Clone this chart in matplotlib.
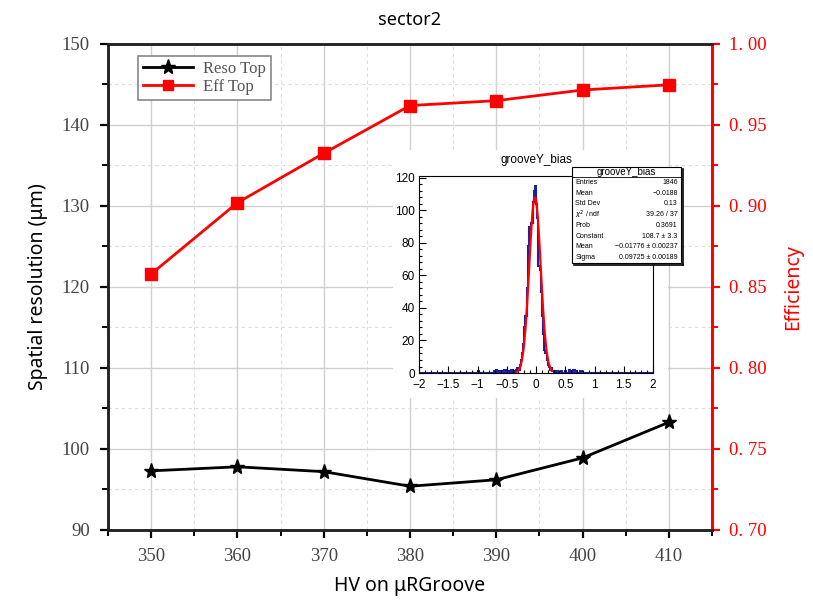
import numpy as np
import matplotlib
matplotlib.use("Agg")
import matplotlib.pyplot as plt
from matplotlib.ticker import MultipleLocator, FixedLocator, FuncFormatter
from matplotlib.lines import Line2D

# main chart data
hv = [350, 360, 370, 380, 390, 400, 410]
reso_top = [97.3, 97.8, 97.2, 95.4, 96.2, 98.9, 103.3]
eff_top = [0.858, 0.902, 0.9325, 0.962, 0.965, 0.9716, 0.9748]
eff_ticks = [0.70, 0.75, 0.80, 0.85, 0.90, 0.95, 1.00]
eff_ticklabels = ["0. 70", "0. 75", "0. 80", "0. 85", "0. 90", "0. 95", "1. 00"]

# inset histogram (bin centres, width 0.02) and fit curve
hist_x = [-0.99, -0.71, -0.67, -0.63, -0.57, -0.53, -0.49, -0.45, -0.41, -0.37,
          -0.33, -0.31, -0.29, -0.27, -0.25, -0.23, -0.21, -0.19, -0.17, -0.15,
          -0.13, -0.11, -0.09, -0.07, -0.05, -0.03, -0.01, 0.01, 0.03, 0.05,
          0.07, 0.09, 0.11, 0.13, 0.15, 0.17, 0.19, 0.21, 0.23, 0.25,
          0.27, 0.29, 0.33, 0.37, 0.43, 0.51, 0.57, 0.61, 0.65, 0.69, 0.77]
hist_n = [1, 1, 2, 1, 1, 2, 1, 1, 2, 1,
          2, 3, 2, 5, 8, 12, 18, 28, 35, 52,
          78, 90, 88, 92, 105, 112, 115, 104, 95, 66,
          63, 50, 35, 24, 14, 12, 8, 5, 4, 2,
          3, 1, 1, 1, 1, 1, 2, 1, 2, 1, 1]
fit_x = [-0.33, -0.30, -0.27, -0.24, -0.21, -0.18, -0.15, -0.12, -0.09, -0.06, -0.03,
         0.00, 0.03, 0.06, 0.09, 0.12, 0.15, 0.18, 0.21, 0.24, 0.27]
fit_y = [0.6, 1.6, 3.8, 8.1, 15.5, 27.1, 43.3, 62.7, 82.6, 99.1, 107.9,
         106.9, 96.3, 78.9, 58.7, 39.8, 24.5, 13.7, 7.0, 3.2, 1.4]
stats_names = ["Entries", "Mean", "Std Dev", r"$\chi^2$ / ndf", "Prob",
               "Constant", "Mean", "Sigma"]
stats_vals = ["1846", "\u22120.0188", "0.13", "39.26 / 37", "0.3691",
              "108.7 \u00b1 3.3", "\u22120.01776 \u00b1 0.00237", "0.09725 \u00b1 0.00189"]

SERIF = "Liberation Serif"
SANS = "Noto Sans"
GREY = "#444444"

fig = plt.figure(figsize=(8.13, 6.0), dpi=100)
ax = fig.add_axes([0.1328, 0.1167, 0.743, 0.81])
ax2 = ax.twinx()

ax.plot(hv, reso_top, color="black", lw=2, marker="*", ms=11, zorder=3)
ax2.plot(hv, eff_top, color="red", lw=2, marker="s", ms=8, zorder=3)

ax.set_xlim(345, 415)
ax.set_ylim(90, 150)
ax2.set_ylim(0.70, 1.00)
ax.xaxis.set_major_locator(MultipleLocator(10))
ax.xaxis.set_minor_locator(MultipleLocator(5))
ax.yaxis.set_major_locator(MultipleLocator(10))
ax.yaxis.set_minor_locator(MultipleLocator(5))
ax2.yaxis.set_major_locator(FixedLocator(eff_ticks))
ax2.yaxis.set_minor_locator(MultipleLocator(0.025))
ax2.set_yticklabels(eff_ticklabels)

ax.grid(which="major", color="#d0d0d0", lw=1, ls="-")
ax.grid(which="minor", color="#dcdcdc", lw=0.8, ls=(0, (3, 3)))
ax.set_axisbelow(True)

for a in (ax, ax2):
    for s in a.spines.values():
        s.set_linewidth(1.8)
        s.set_color("#222222")
ax2.spines["right"].set_color("red")

ax.tick_params(which="major", length=6, width=1.6, labelsize=13.5, labelcolor=GREY, pad=7)
ax.tick_params(which="minor", length=4, width=1.4)
ax2.tick_params(which="major", length=6, width=1.6, labelsize=13.5, colors="red", pad=6)
ax2.tick_params(which="minor", length=4, width=1.4, colors="red")
for lab in ax.get_xticklabels() + ax.get_yticklabels() + ax2.get_yticklabels():
    lab.set_fontfamily(SERIF)

ax.set_xlabel("HV on \u03bcRGroove", fontsize=14, family=SANS, labelpad=8)
ax.set_ylabel("Spatial resolution (\u03bcm)", fontsize=14, family=SANS, labelpad=10)
ax2.set_ylabel("Efficiency", fontsize=14, family=SANS, color="red", labelpad=12)
ax.set_title("sector2", fontsize=13, family=SANS, pad=14)

handles = [Line2D([], [], color="black", lw=2, marker="*", ms=11),
           Line2D([], [], color="red", lw=2, marker="s", ms=7)]
leg = ax2.legend(handles, ["Reso Top", "Eff Top"], loc="upper left",
                 bbox_to_anchor=(0.05, 0.975), borderaxespad=0, fancybox=False,
                 edgecolor="#888888", framealpha=1, handlelength=3.0,
                 prop={"family": SERIF, "size": 12}, labelspacing=0.1,
                 borderpad=0.3, handletextpad=0.6)
leg.get_frame().set_linewidth(1.2)
for t in leg.get_texts():
    t.set_color("#555555")

# inset (ROOT style canvas)
pad = fig.add_axes([0.4834, 0.3367, 0.338, 0.4133])
pad.set_facecolor("white")
pad.set_xticks([])
pad.set_yticks([])
for s in pad.spines.values():
    s.set_visible(False)

ins = fig.add_axes([0.5154, 0.3783, 0.2878, 0.3283])
full_x = np.arange(-2.0, 2.0001, 0.02)
counts = np.zeros(len(full_x) - 1)
for c, n in zip(hist_x, hist_n):
    counts[int(round((c + 2.0 - 0.01) / 0.02))] = n
ins.stairs(counts, full_x, color="#1f1fa0", lw=1.5)
ins.plot(fit_x, fit_y, color="red", lw=1.6)
ins.set_xlim(-2, 2)
ins.set_ylim(0, 121)
ins.xaxis.set_major_locator(MultipleLocator(0.5))
ins.xaxis.set_minor_locator(MultipleLocator(0.1))
ins.yaxis.set_major_locator(MultipleLocator(20))
ins.yaxis.set_minor_locator(MultipleLocator(4))
ins.tick_params(which="both", direction="in", top=False, right=False,
                labelsize=8.5, width=0.8)
ins.tick_params(axis="x", pad=4)
ins.tick_params(axis="y", pad=3)
ins.tick_params(which="major", length=5)
ins.tick_params(which="minor", length=2.5)
ins.xaxis.set_major_formatter(FuncFormatter(
    lambda v, p: ("%g" % v).replace("-", "\u2212")))
for lab in ins.get_xticklabels() + ins.get_yticklabels():
    lab.set_fontfamily("Liberation Sans")
for s in ins.spines.values():
    s.set_linewidth(0.8)
fig.text(536 / 813, 1 - 160 / 600, "grooveY_bias", ha="center", va="center",
         fontsize=8.5, family="Liberation Sans")

# stats box
bx0, bx1, by0, by1 = 572 / 813, 681 / 813, 1 - 263 / 600, 1 - 167 / 600
box = plt.Rectangle((bx0, by0), bx1 - bx0, by1 - by0, transform=fig.transFigure,
                    facecolor="white", edgecolor="black", lw=0.8, zorder=10)
fig.add_artist(box)
fig.add_artist(Line2D([bx0 + 0.002, bx1 + 0.002], [by0 - 0.003, by0 - 0.003],
                      transform=fig.transFigure, color="black", lw=1.2, zorder=9))
fig.add_artist(Line2D([bx1 + 0.002, bx1 + 0.002], [by0 - 0.003, by1 - 0.004],
                      transform=fig.transFigure, color="black", lw=1.2, zorder=9))
ty = 1 - 177 / 600
fig.add_artist(Line2D([bx0, bx1], [ty, ty], transform=fig.transFigure,
                      color="black", lw=0.6, zorder=11))
fig.text((bx0 + bx1) / 2, (ty + by1) / 2, "grooveY_bias", ha="center", va="center",
         fontsize=7, family="Liberation Sans", zorder=12)
row_h = (ty - by0) / len(stats_names)
for i, (nm, vl) in enumerate(zip(stats_names, stats_vals)):
    yy = ty - (i + 0.5) * row_h
    fig.text(bx0 + 0.004, yy, nm, ha="left", va="center", fontsize=5,
             family="Liberation Sans", zorder=12)
    fig.text(bx1 - 0.004, yy, vl, ha="right", va="center", fontsize=5,
             family="Liberation Sans", zorder=12)

fig.savefig("out.png", dpi=100)
